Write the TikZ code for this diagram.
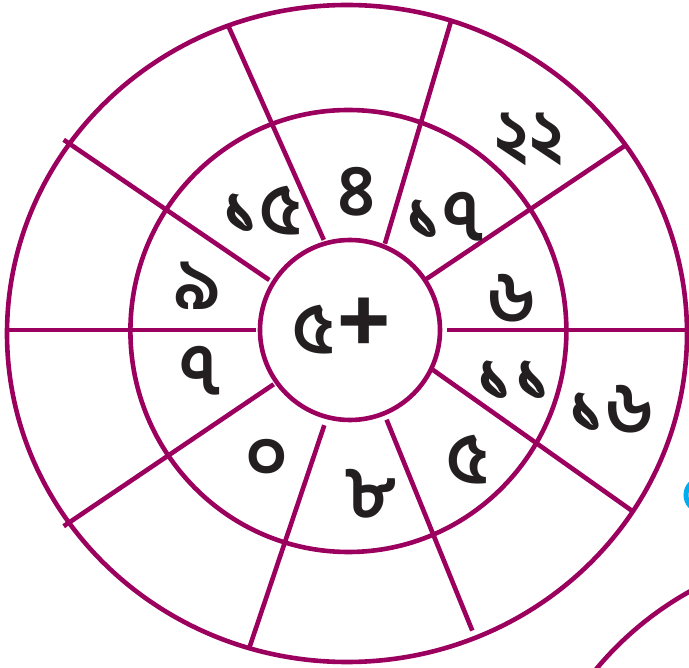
\documentclass[tikz,border=0pt]{standalone}
\usepackage{fontspec}
\newfontfamily\bnfont[Script=Bengali]{Hind Siliguri}
\definecolor{wheel}{RGB}{156,0,94}
\definecolor{tagblue}{RGB}{0,172,236}
\definecolor{ink}{RGB}{35,31,32}

\begin{document}
\begin{tikzpicture}[x=1pt, y=-1pt,
  ring/.style={draw=wheel, line width=4.6pt},
  spoke/.style={draw=wheel, line width=4.6pt},
  num/.style={font=\bnfont\bfseries\fontsize{72}{72}\selectfont, text=ink, inner sep=0pt}
]
  \useasboundingbox (0,0) rectangle (689,668);
  \clip (0,0) rectangle (689,668);

  % the three rings
  \draw[ring] (347,333.5) ellipse [x radius=340, y radius=328.5];
  \draw[ring] (348.4,331) ellipse [x radius=218, y radius=221];
  \draw[ring] (350,330) circle [radius=90];

  % spokes, from the hub out
  \draw[spoke] (269.3,280) -- (63.7,139.8);
  \draw[spoke] (323.8,239.9) -- (228.5,26.4);
  \draw[spoke] (384.9,243.7) -- (451.2,20.5);
  \draw[spoke] (426.2,279.1) -- (626.1,144.9);
  \draw[spoke] (447.3,330) -- (689,330);
  \draw[spoke] (432.8,369.8) -- (631.4,510.4);
  \draw[spoke] (386.6,419.7) -- (472.3,630.6);
  \draw[spoke] (324.3,425.2) -- (249.1,648.5);
  \draw[spoke] (273.7,384.3) -- (63.7,526.2);
  \draw[spoke] (255.7,330) -- (8.8,330);

  % hub
  \node[num] (hub) at (342,326) {৫\kern2pt{\fontsize{96}{96}\selectfont+}};

  % inner ring
  \node[num] (n4)  at (357,192)   {৪};
  \node[num] (n17) at (444.6,217) {১৭};
  \node[num] (n6)  at (512,298)   {৬};
  \node[num] (n11) at (514,381)   {১১};
  \node[num] (n5)  at (468,460)   {৫};
  \node[num] (n8)  at (370,494)   {৮};
  \node[num] (n0)  at (267,460)   {০};
  \node[num] (n7)  at (200,371)   {৭};
  \node[num] (n9)  at (198,286)   {৯};
  \node[num] (n15) at (262,211)   {১৫};

  % outer ring
  \node[num] (n22) at (529,139)   {২২};
  \node[num] (n16) at (611,409)   {১৬};

  % bits of the next pictures
  \draw[tagblue, line width=5pt] (702,495) circle [radius=16];
  \draw[ring] (850,880) circle [radius=330];
\end{tikzpicture}
\end{document}
